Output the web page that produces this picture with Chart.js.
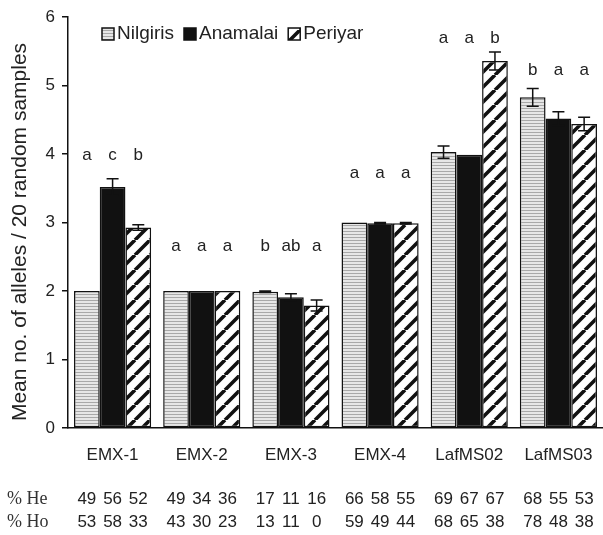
<!DOCTYPE html>
<html>
<head>
<meta charset="utf-8">
<script src="https://cdn.jsdelivr.net/npm/chart.js@4.4.1/dist/chart.umd.min.js"></script>
<style>
  body { margin: 0; background: #fff; }
  canvas { display: block; }
</style>
</head>
<body>
<canvas id="canvas" width="603" height="535"></canvas>
<script>
// data
const categories = ['EMX-1', 'EMX-2', 'EMX-3', 'EMX-4', 'LafMS02', 'LafMS03'];
const seriesNames = ['Nilgiris', 'Anamalai', 'Periyar'];

const nilgiris = [2.0, 2.0, 1.99, 3.0, 4.03, 4.83];
const anamalai = [3.52, 2.0, 1.91, 2.99, 3.99, 4.52];
const periyar = [2.93, 2.0, 1.79, 2.99, 5.36, 4.44];

const nilgirisErr = [0, 0, 0.01, 0, 0.09, 0.13];
const anamalaiErr = [0.12, 0, 0.05, 0.01, 0, 0.1];
const periyarErr = [0.04, 0, 0.08, 0.01, 0.13, 0.1];

// significance letters per group and the level (y value) they sit at
const letters = [['a', 'c', 'b'], ['a', 'a', 'a'], ['b', 'ab', 'a'], ['a', 'a', 'a'], ['a', 'a', 'b'], ['b', 'a', 'a']];
const letterLevel = [3.99, 2.66, 2.66, 3.72, 5.69, 5.22];

// % heterozygosity rows under the axis
const heValues = [[49, 56, 52], [49, 34, 36], [17, 11, 16], [66, 58, 55], [69, 67, 67], [68, 55, 53]];
const hoValues = [[53, 58, 33], [43, 30, 23], [13, 11, 0], [59, 49, 44], [68, 65, 38], [78, 48, 38]];

const yTicks = [0, 1, 2, 3, 4, 5, 6];
const yTitle = 'Mean no. of alleles / 20 random samples';

const FONT = "'Liberation Sans', Arial, Helvetica, sans-serif";
Chart.defaults.font.family = FONT;
Chart.defaults.color = '#222';

const ctx = document.getElementById('canvas').getContext('2d');

// fill patterns
const makePattern = (size, draw) => {
    const c = document.createElement('canvas');
    c.width = size;
    c.height = size;
    draw(c.getContext('2d'), size);
    return ctx.createPattern(c, 'repeat');
};

const dotted = makePattern(3, (g, s) => {
    g.fillStyle = '#e6e6e6';
    g.fillRect(0, 0, s, s);
    g.fillStyle = '#a8a8a8';
    g.fillRect(0, 0, s, 1);
});

const hatched = makePattern(15, (g, s) => {
    g.fillStyle = '#fff';
    g.fillRect(0, 0, s, s);
    g.strokeStyle = '#111';
    g.lineWidth = 3.6;
    g.beginPath();
    [-s, 0, s].forEach((k) => {
        g.moveTo(k, s);
        g.lineTo(k + s, 0);
    });
    g.stroke();
});

const fills = [dotted, '#111', hatched];
const errors = [nilgirisErr, anamalaiErr, periyarErr];

// error bars, letters, legend, axis title and He/Ho rows
const extras = {
    id: 'extras',
    afterDatasetsDraw(chart) {
        const g = chart.ctx;
        const y = chart.scales.y;
        g.save();
        g.strokeStyle = '#111';
        g.lineWidth = 1.5;
        chart.data.datasets.forEach((ds, i) => {
            chart.getDatasetMeta(i).data.forEach((bar, j) => {
                const e = errors[i][j];
                if (!e) return;
                const top = y.getPixelForValue(ds.data[j] + e);
                const bot = y.getPixelForValue(ds.data[j] - e);
                g.beginPath();
                g.moveTo(bar.x, top);
                g.lineTo(bar.x, bot);
                g.moveTo(bar.x - 6, top);
                g.lineTo(bar.x + 6, top);
                g.moveTo(bar.x - 6, bot);
                g.lineTo(bar.x + 6, bot);
                g.stroke();
            });
        });

        g.fillStyle = '#222';
        g.font = `17px ${FONT}`;
        g.textAlign = 'center';
        g.textBaseline = 'middle';
        letters.forEach((row, j) => {
            row.forEach((l, i) => {
                const bar = chart.getDatasetMeta(i).data[j];
                g.fillText(l, bar.x, y.getPixelForValue(letterLevel[j]));
            });
        });

        // He / Ho numbers, one under each bar
        [heValues, hoValues].forEach((rows, r) => {
            rows.forEach((row, j) => {
                row.forEach((n, i) => {
                    const bar = chart.getDatasetMeta(i).data[j];
                    g.fillText(String(n), bar.x, 499 + r * 23);
                });
            });
        });

        // y axis title
        g.save();
        g.font = `21px ${FONT}`;
        g.translate(20, 232);
        g.rotate(-Math.PI / 2);
        g.fillText(yTitle, 0, 0);
        g.restore();

        // legend inside the plot
        g.font = `19px ${FONT}`;
        g.textAlign = 'left';
        let lx = 102;
        const ly = 34;
        chart.data.datasets.forEach((ds) => {
            g.fillStyle = ds.backgroundColor;
            g.fillRect(lx, ly - 6, 12, 12);
            g.strokeStyle = '#111';
            g.lineWidth = 1.5;
            g.strokeRect(lx, ly - 6, 12, 12);
            g.fillStyle = '#222';
            g.fillText(ds.label, lx + 15, ly);
            lx += 15 + g.measureText(ds.label).width + 10;
        });

        // row titles for the table under the axis
        g.font = `18px 'Liberation Serif', 'Times New Roman', serif`;
        g.fillStyle = '#333';
        g.fillText('% He', 7, 499);
        g.fillText('% Ho', 7, 522);
        g.restore();
    }
};

new Chart(ctx, {
    type: 'bar',
    data: {
        labels: categories,
        datasets: seriesNames.map((name, i) => ({
            label: name,
            data: [nilgiris, anamalai, periyar][i],
            backgroundColor: fills[i],
            borderColor: '#111',
            borderWidth: 1.5,
            borderSkipped: false,
            categoryPercentage: 0.865,
            barPercentage: 1.0
        }))
    },
    options: {
        responsive: false,
        animation: false,
        layout: { padding: { top: 16, right: -2, left: 0, bottom: 0 } },
        plugins: {
            legend: { display: false },
            tooltip: { enabled: false }
        },
        scales: {
            x: {
                grid: { display: false, drawTicks: false },
                border: { display: true, color: '#111', width: 1.5 },
                ticks: {
                    autoSkip: false,
                    maxRotation: 0,
                    padding: 16,
                    font: { size: 17, lineHeight: '22px' }
                },
                afterFit: (scale) => {
                    scale.height = 107;
                    scale.paddingLeft = 0;
                    scale.paddingRight = 0;
                }
            },
            y: {
                min: 0,
                max: 6,
                afterBuildTicks: (scale) => { scale.ticks = yTicks.map((v) => ({ value: v })); },
                grid: { drawOnChartArea: false, drawTicks: true, tickLength: 6, color: '#111', lineWidth: 1.5 },
                border: { display: true, color: '#111', width: 1.5 },
                ticks: { padding: 7, font: { size: 17 } },
                afterFit: (scale) => { scale.width = 68; }
            }
        }
    },
    plugins: [extras]
});
</script>
</body>
</html>
